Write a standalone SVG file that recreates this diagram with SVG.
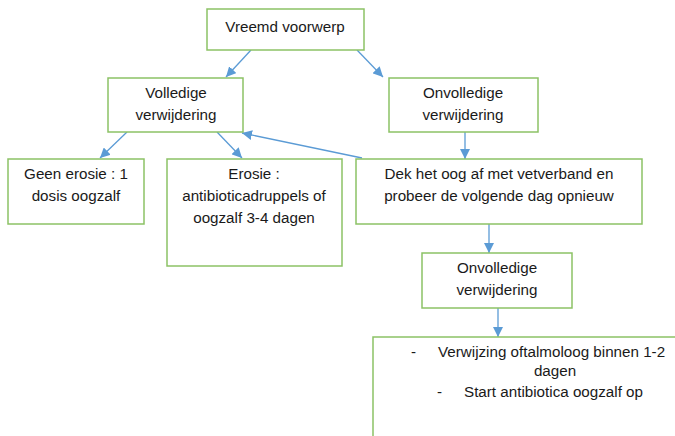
<svg xmlns="http://www.w3.org/2000/svg" width="675" height="436" viewBox="0 0 675 436">
  <defs>
    <marker id="arrow" viewBox="0 0 10 10" refX="10" refY="5" markerWidth="10" markerHeight="10" markerUnits="userSpaceOnUse" orient="auto">
      <path d="M0,0 L10,5 L0,10 Z" fill="#5b9bd5"/>
    </marker>
  </defs>
  <style>
    .box { fill: #ffffff; stroke: #8cc265; stroke-width: 1.5; }
    .lbl { font-family: "Liberation Sans", Arial, sans-serif; font-size: 15.2px; fill: #1a1a1a; text-anchor: middle; }
    .lft { text-anchor: start; }
    .conn { stroke: #5b9bd5; stroke-width: 1.3; fill: none; marker-end: url(#arrow); }
  </style>
  <rect width="675" height="436" fill="#ffffff"/>

  <g id="connectors">
    <line class="conn" x1="251" y1="50" x2="226" y2="77"/>
    <line class="conn" x1="357" y1="50" x2="383" y2="77"/>
    <line class="conn" x1="127" y1="132" x2="100" y2="158"/>
    <line class="conn" x1="217" y1="132" x2="242" y2="158"/>
    <line class="conn" x1="465" y1="132" x2="465" y2="159"/>
    <line class="conn" x1="362" y1="158" x2="242" y2="133"/>
    <line class="conn" x1="489" y1="224" x2="489" y2="253"/>
    <line class="conn" x1="498" y1="308" x2="498" y2="337"/>
  </g>

  <g id="vreemd-voorwerp">
    <rect class="box" x="207" y="9" width="157" height="41"/>
    <text class="lbl" x="285" y="32">Vreemd voorwerp</text>
  </g>

  <g id="volledige-verwijdering">
    <rect class="box" x="108" y="78" width="135" height="54"/>
    <text class="lbl" x="176" y="98">Volledige</text>
    <text class="lbl" x="176" y="120">verwijdering</text>
  </g>

  <g id="onvolledige-verwijdering">
    <rect class="box" x="389" y="78" width="149" height="54"/>
    <text class="lbl" x="463" y="98">Onvolledige</text>
    <text class="lbl" x="463" y="120">verwijdering</text>
  </g>

  <g id="geen-erosie">
    <rect class="box" x="8" y="159" width="136" height="65"/>
    <text class="lbl" x="76" y="179">Geen erosie : 1</text>
    <text class="lbl" x="76" y="201">dosis oogzalf</text>
  </g>

  <g id="erosie">
    <rect class="box" x="167" y="159" width="175" height="107"/>
    <text class="lbl" x="254" y="179">Erosie :</text>
    <text class="lbl" x="254" y="201">antibioticadruppels of</text>
    <text class="lbl" x="254" y="223">oogzalf 3-4 dagen</text>
  </g>

  <g id="vetverband">
    <rect class="box" x="356" y="159" width="286" height="65"/>
    <text class="lbl" x="499" y="179">Dek het oog af met vetverband en</text>
    <text class="lbl" x="499" y="201">probeer de volgende dag opnieuw</text>
  </g>

  <g id="onvolledige-verwijdering-2">
    <rect class="box" x="422" y="253" width="150" height="55"/>
    <text class="lbl" x="497" y="273">Onvolledige</text>
    <text class="lbl" x="497" y="295">verwijdering</text>
  </g>

  <g id="verwijzing">
    <rect class="box" x="373" y="337" width="330" height="130"/>
    <text class="lbl lft" x="411" y="357">-</text>
    <text class="lbl lft" x="438" y="357">Verwijzing oftalmoloog binnen 1-2</text>
    <text class="lbl" x="555" y="376">dagen</text>
    <text class="lbl lft" x="437" y="397">-</text>
    <text class="lbl lft" x="464" y="397">Start antibiotica oogzalf op</text>
  </g>
</svg>
